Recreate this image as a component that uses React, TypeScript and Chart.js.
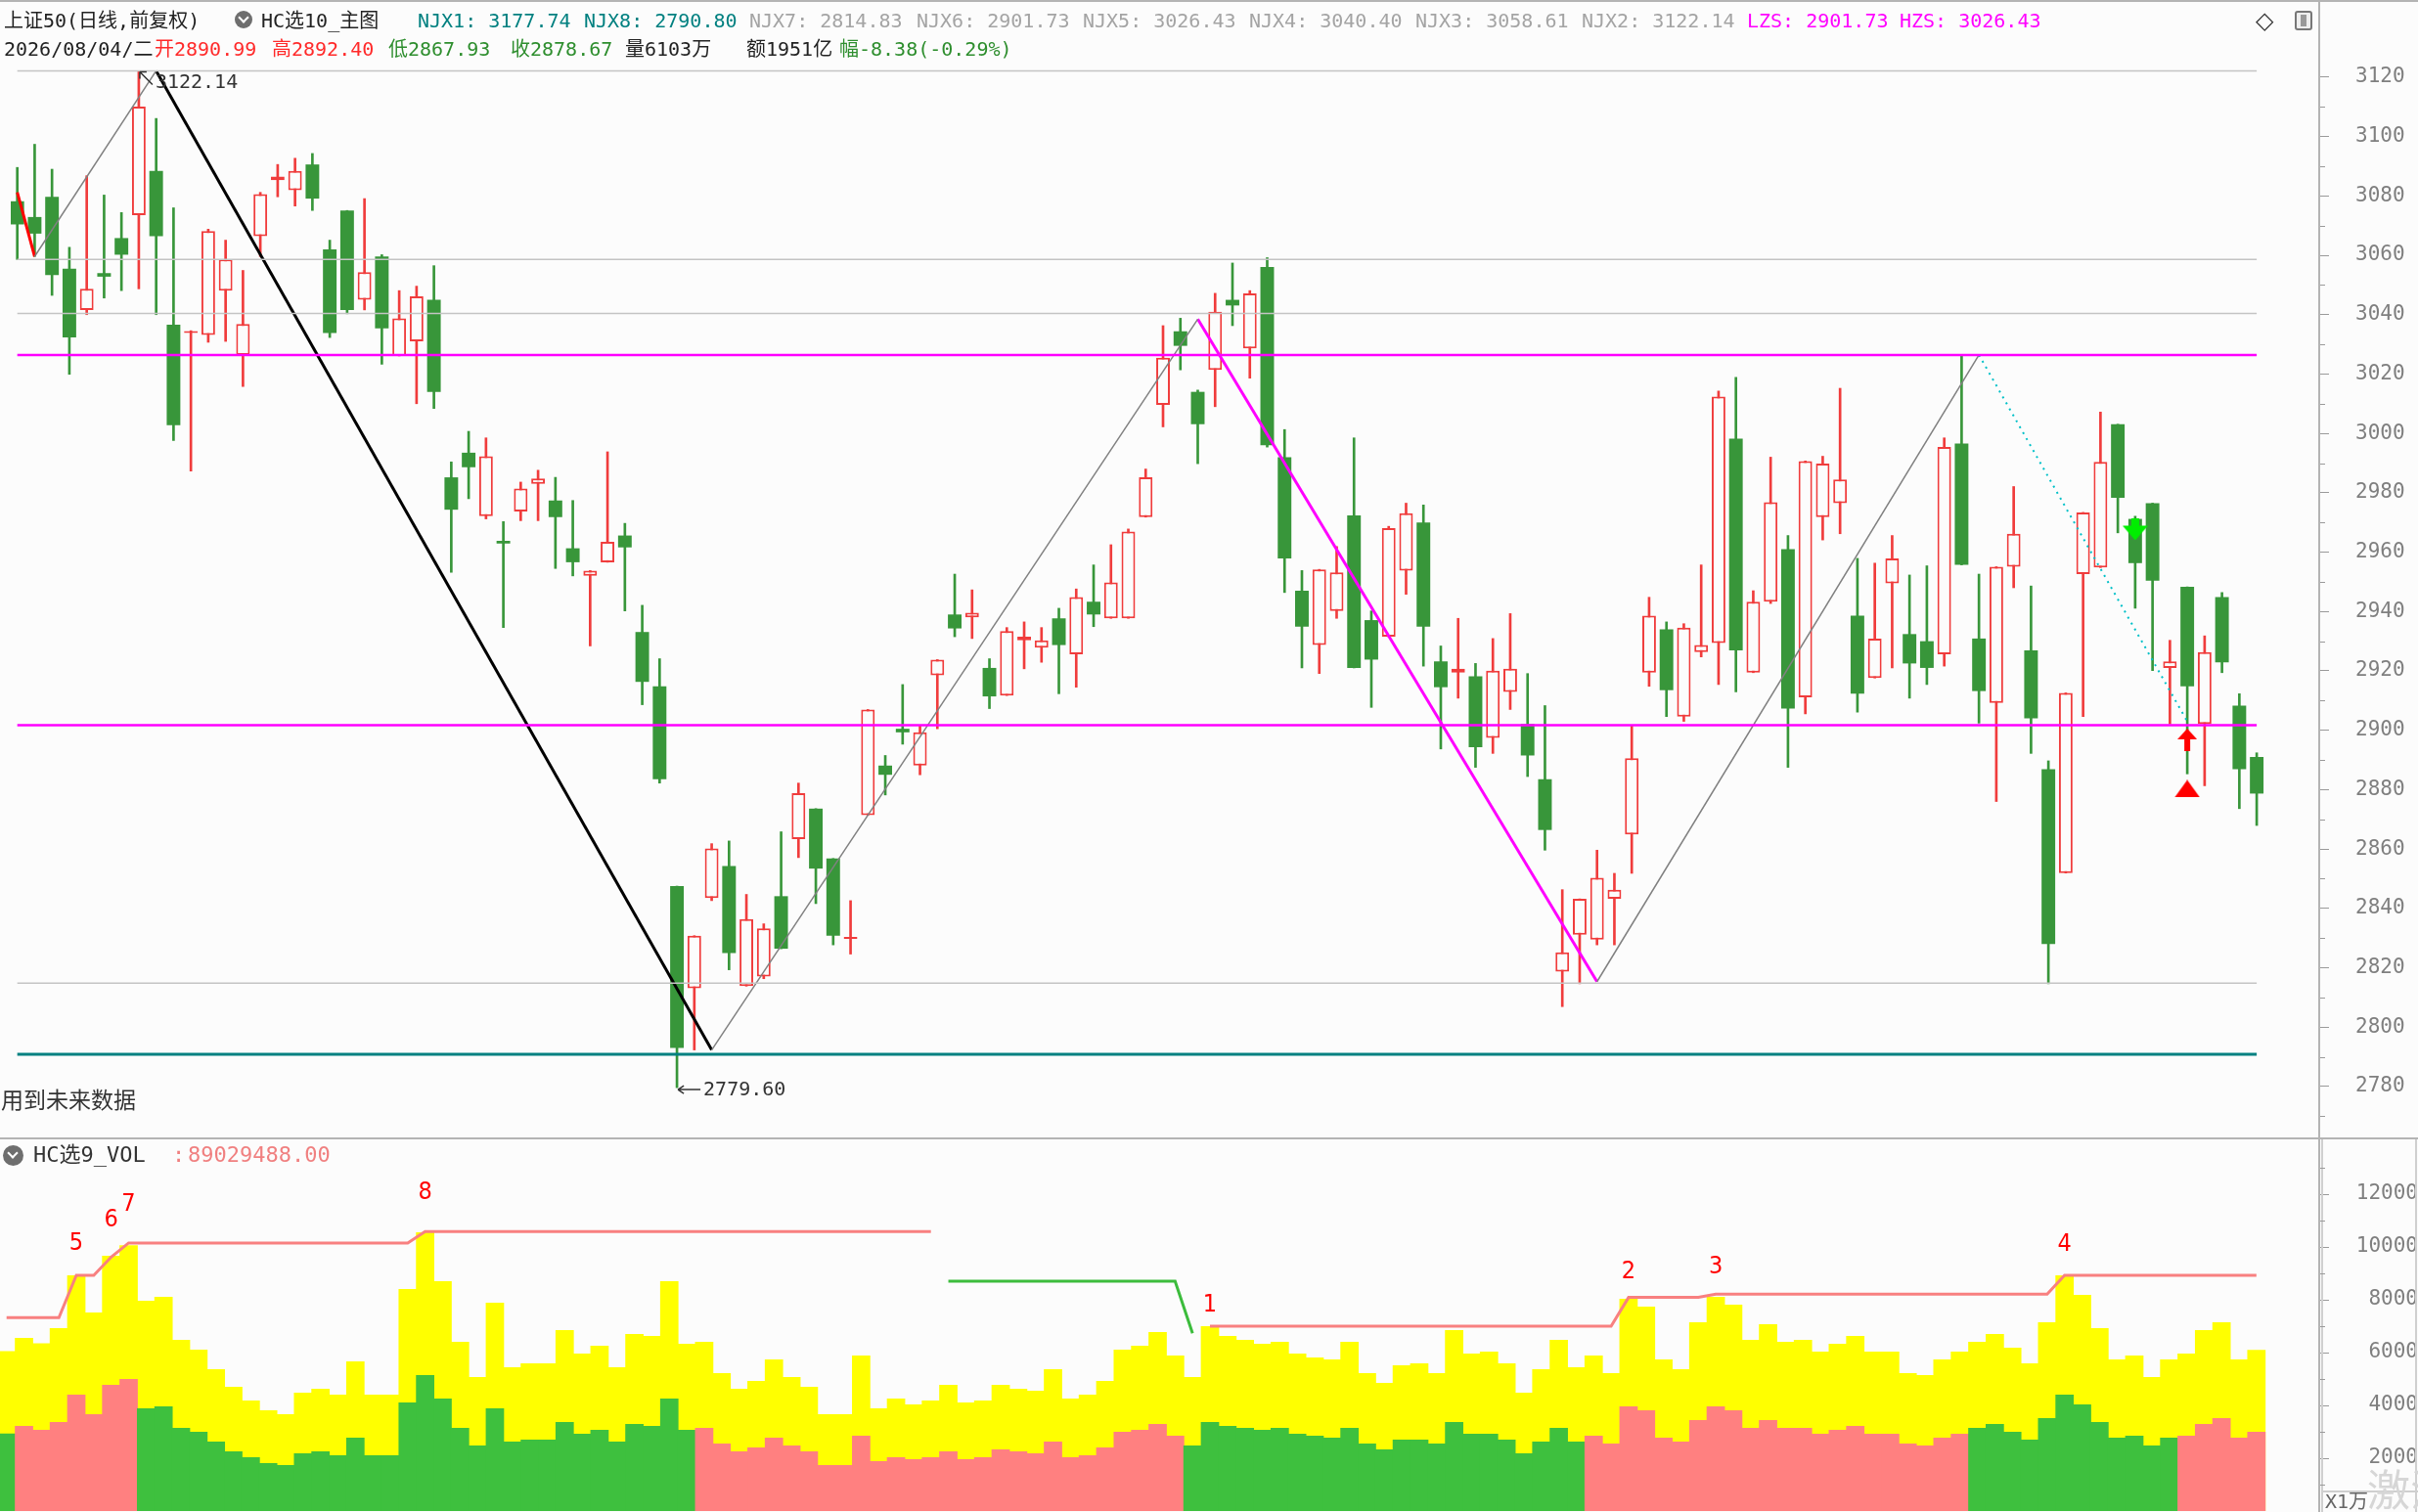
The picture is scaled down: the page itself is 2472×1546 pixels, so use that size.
import React, { useEffect, useRef } from 'react';
import { Chart, registerables } from 'chart.js';

Chart.register(...registerables);

// ---------------- data ----------------
const opens = [
  3078.2, 3072.9, 3079.7, 3055.5, 3041.6, 3054.0, 3065.8, 3073.5, 3088.4, 3036.6,
  3033.8, 3033.2, 3048.1, 3026.4, 3066.4, 3085.3, 3081.9, 3090.6, 3062.0, 3075.1,
  3045.0, 3059.6, 3026.1, 3031.0, 3045.0, 2985.2, 2993.5, 2972.1, 2963.8, 2973.7,
  2983.0, 2977.4, 2961.3, 2952.0, 2956.6, 2965.6, 2933.1, 2914.8, 2847.5, 2813.1,
  2843.5, 2854.3, 2813.8, 2817.0, 2844.1, 2863.3, 2873.6, 2856.8, 2829.7, 2871.4,
  2888.1, 2900.5, 2888.1, 2918.5, 2939.0, 2938.0, 2921.0, 2911.7, 2930.3, 2927.8,
  2937.7, 2925.6, 2943.3, 2937.7, 2937.7, 2971.8, 3009.6, 3034.4, 3014.0, 3021.4,
  3045.0, 3028.6, 3056.1, 2992.0, 2947.0, 2928.7, 2940.2, 2972.4, 2937.1, 2931.5,
  2953.8, 2970.0, 2923.2, 2919.4, 2918.2, 2897.4, 2912.9, 2902.1, 2883.5, 2818.7,
  2831.1, 2829.5, 2843.2, 2864.9, 2919.4, 2934.0, 2904.6, 2926.3, 2929.4, 2998.2,
  2919.4, 2943.3, 2961.0, 2911.1, 2971.8, 2976.5, 2938.6, 2917.6, 2949.5, 2932.4,
  2930.0, 2925.6, 2996.6, 2930.9, 2909.2, 2955.1, 2926.9, 2886.9, 2851.9, 2952.6,
  2954.8, 3003.1, 2971.2, 2976.5, 2921.0, 2948.3, 2902.1, 2944.9, 2908.3, 2890.99,
];
const highs = [
  3089.6, 3097.4, 3089.0, 3062.7, 3086.8, 3080.3, 3074.4, 3122.14, 3106.1, 3076.0,
  3034.6, 3068.8, 3065.1, 3054.9, 3081.2, 3090.6, 3092.7, 3094.3, 3065.1, 3075.1,
  3079.1, 3060.2, 3048.1, 3049.6, 3056.5, 2990.4, 3000.7, 2998.5, 2970.3, 2983.6,
  2987.6, 2985.2, 2977.4, 2953.8, 2993.8, 2969.7, 2942.1, 2924.1, 2847.5, 2830.8,
  2861.8, 2862.7, 2844.7, 2834.8, 2865.8, 2882.2, 2873.6, 2856.8, 2842.6, 2907.0,
  2891.5, 2915.4, 2901.5, 2923.8, 2952.6, 2947.3, 2924.1, 2934.6, 2936.5, 2934.6,
  2941.1, 2947.6, 2955.7, 2962.5, 2967.8, 2988.0, 3036.3, 3038.8, 3014.6, 3047.2,
  3057.4, 3048.1, 3059.2, 3001.3, 2953.8, 2954.2, 2961.9, 2998.5, 2940.2, 2968.7,
  2976.5, 2975.9, 2928.4, 2937.7, 2922.5, 2930.9, 2939.3, 2919.1, 2908.3, 2846.3,
  2843.2, 2859.6, 2851.8, 2901.5, 2944.8, 2936.5, 2935.9, 2955.7, 3014.3, 3018.9,
  2947.0, 2992.0, 2965.6, 2990.7, 2992.3, 3015.2, 2957.9, 2956.3, 2965.6, 2952.3,
  2955.4, 2998.5, 3026.43, 2952.6, 2955.1, 2982.1, 2948.6, 2889.7, 2912.6, 2973.4,
  3007.2, 3003.1, 2972.1, 2976.5, 2930.3, 2948.3, 2931.8, 2946.4, 2912.3, 2892.40,
];
const lows = [
  3058.6, 3059.6, 3046.5, 3019.9, 3040.0, 3045.6, 3048.1, 3048.7, 3040.0, 2997.6,
  2987.3, 3030.7, 3031.0, 3015.8, 3059.6, 3079.7, 3076.6, 3075.1, 3032.3, 3040.3,
  3041.6, 3023.3, 3026.1, 3010.0, 3008.4, 2953.2, 2978.0, 2971.2, 2934.6, 2970.6,
  2970.6, 2954.5, 2952.0, 2928.4, 2956.6, 2940.2, 2908.6, 2882.2, 2779.6, 2792.3,
  2842.6, 2819.3, 2813.8, 2816.3, 2826.4, 2857.1, 2841.6, 2827.7, 2824.6, 2871.4,
  2878.2, 2895.3, 2885.0, 2900.5, 2931.5, 2930.9, 2907.3, 2911.7, 2920.7, 2922.9,
  2912.3, 2914.5, 2934.9, 2937.7, 2937.7, 2971.8, 3002.2, 3021.4, 2989.8, 3009.0,
  3036.3, 3018.6, 2995.4, 2946.4, 2921.0, 2919.1, 2937.7, 2921.0, 2907.7, 2931.5,
  2945.8, 2921.6, 2893.7, 2910.8, 2887.5, 2892.2, 2907.0, 2884.4, 2859.6, 2806.9,
  2814.6, 2827.7, 2827.7, 2851.8, 2914.8, 2904.6, 2903.0, 2924.7, 2915.4, 2912.9,
  2919.4, 2942.7, 2887.5, 2905.5, 2964.1, 2966.2, 2906.1, 2917.6, 2921.0, 2910.8,
  2915.4, 2921.6, 2955.7, 2902.4, 2876.0, 2948.0, 2892.2, 2814.6, 2851.9, 2904.6,
  2954.8, 2966.5, 2941.1, 2920.1, 2902.1, 2885.3, 2881.3, 2919.4, 2873.6, 2867.93,
];
const closes = [
  3070.4, 3067.3, 3053.3, 3032.3, 3048.7, 3052.8, 3060.2, 3110.1, 3066.4, 3002.8,
  3034.4, 3068.2, 3058.6, 3036.9, 3080.6, 3086.5, 3088.4, 3079.1, 3033.8, 3041.6,
  3054.3, 3035.4, 3038.8, 3046.2, 3014.0, 2974.3, 2988.6, 2992.3, 2962.9, 2981.4,
  2984.8, 2971.8, 2956.6, 2953.8, 2963.5, 2961.6, 2916.3, 2883.5, 2793.0, 2830.8,
  2860.2, 2824.9, 2836.4, 2833.3, 2826.4, 2878.8, 2853.4, 2830.8, 2830.2, 2907.0,
  2885.0, 2899.3, 2899.3, 2923.8, 2934.3, 2939.6, 2911.4, 2933.4, 2931.5, 2930.3,
  2928.7, 2944.9, 2939.0, 2949.8, 2966.9, 2985.2, 3025.5, 3029.5, 3003.1, 3041.0,
  3043.1, 3047.2, 2996.0, 2957.9, 2934.9, 2954.2, 2953.2, 2921.0, 2923.8, 2968.1,
  2973.1, 2934.9, 2914.5, 2920.7, 2894.3, 2920.1, 2920.7, 2891.5, 2866.4, 2825.2,
  2843.2, 2850.3, 2846.3, 2890.6, 2938.6, 2913.5, 2934.6, 2928.7, 3012.4, 2926.9,
  2943.3, 2976.8, 2907.3, 2990.7, 2989.8, 2984.5, 2912.3, 2930.9, 2957.9, 2922.5,
  2921.0, 2995.4, 2955.7, 2913.2, 2955.1, 2966.2, 2904.0, 2828.0, 2912.6, 2973.4,
  2990.4, 2978.3, 2956.3, 2950.4, 2923.2, 2914.8, 2926.3, 2922.9, 2886.9, 2878.67,
];

// volume (unit: 万)
const volTotal = [
  6052, 6558, 6348, 6928, 8929, 7521, 9670, 10065, 7966, 8114,
  6484, 6113, 5372, 4705, 4187, 3816, 3668, 4483, 4631, 4409,
  5669, 4409, 4409, 8410, 10559, 8707, 6410, 5076, 7892, 5446,
  5595, 5595, 6854, 5965, 6261, 5446, 6706, 6632, 8707, 6336,
  6410, 5224, 4631, 4928, 5743, 5076, 4705, 3668, 3668, 5891,
  3890, 4261, 4038, 4187, 4779, 4113, 4187, 4779, 4631, 4557,
  5372, 4261, 4409, 4928, 6113, 6261, 6780, 5891, 5076, 7002,
  6632, 6484, 6336, 6410, 5965, 5817, 5743, 6410, 5224, 4854,
  5520, 5595, 5224, 6854, 5965, 6039, 5595, 4483, 5372, 6484,
  5446, 5891, 5224, 8040, 7743, 5743, 5372, 7151, 8114, 7818,
  6484, 7077, 6410, 6484, 6039, 6336, 6632, 6039, 6039, 5224,
  5150, 5743, 6039, 6410, 6706, 6187, 5595, 7151, 8929, 8188,
  6928, 5743, 5891, 5076, 5743, 5965, 6854, 7151, 5743, 6103,
];
const volPart = [
  2939, 3223, 3075, 3372, 4409, 3668, 4779, 5002, 3890, 3964,
  3149, 3001, 2631, 2260, 2038, 1815, 1741, 2186, 2260, 2112,
  2779, 2112, 2112, 4113, 5150, 4261, 3149, 2482, 3890, 2631,
  2705, 2705, 3372, 2927, 3075, 2631, 3297, 3223, 4261, 3075,
  3149, 2556, 2260, 2408, 2779, 2482, 2260, 1741, 1741, 2853,
  1890, 2038, 1964, 2038, 2260, 1964, 2038, 2334, 2260, 2186,
  2631, 2038, 2112, 2408, 3001, 3075, 3297, 2853, 2482, 3372,
  3223, 3149, 3075, 3149, 2927, 2853, 2779, 3149, 2556, 2334,
  2705, 2705, 2556, 3372, 2927, 2927, 2705, 2186, 2631, 3149,
  2631, 2853, 2556, 3964, 3816, 2779, 2631, 3446, 3964, 3816,
  3149, 3446, 3149, 3149, 2927, 3075, 3223, 2927, 2927, 2556,
  2482, 2779, 2927, 3149, 3297, 3001, 2705, 3520, 4409, 4038,
  3372, 2779, 2853, 2482, 2779, 2853, 3297, 3520, 2779, 3001,
];
const trendRuns = [
  [0, 0, 'down'], [1, 7, 'up'], [8, 39, 'down'], [40, 67, 'up'],
  [68, 90, 'down'], [91, 112, 'up'], [113, 124, 'down'], [125, 129, 'up'],
];

const priceTicks = [2780, 2800, 2820, 2840, 2860, 2880, 2900, 2920, 2940, 2960, 2980, 3000, 3020, 3040, 3060, 3080, 3100, 3120];
const volTicks = [2000, 4000, 6000, 8000, 10000, 12000];

const njxNames = ['NJX1', 'NJX8', 'NJX7', 'NJX6', 'NJX5', 'NJX4', 'NJX3', 'NJX2'];
const njxValues = [3177.74, 2790.80, 2814.83, 2901.73, 3026.43, 3040.40, 3058.61, 3122.14];
const LZS = 2901.73;
const HZS = 3026.43;
const grayLevels = [3122.14, 3058.61, 3040.40, 2814.83];
const magentaLevels = [HZS, LZS];
const tealLevel = 2790.80;

const zigRed = [[0, 3081.2], [1, 3059.6]];
const zigThin = [
  [[1, 3059.6], [8, 3122.14]],
  [[40, 2792.3], [68, 3038.5]],
  [[91, 2815.3], [113, 3026.43]],
];
const zigBlack = [[8, 3122.14], [40, 2792.3]];
const zigMagenta = [[68, 3038.5], [91, 2815.3]];
const zigCyan = [[113, 3026.43], [125, 2903.0]];

const sellMarks = [[122, 2967.6]];
const buyArrows = [[125, 2896.8]];
const buyTriangles = [[125, 2880.3]];
const peakMark = [7, 3122.14];
const troughMark = [38, 2779.6];

const volMaxRunsA = [[0, 3, 7324], [4, 5, 8929], [6, 6, 9620], [7, 23, 10152], [24, 53, 10584]];
const volMinRuns = [[54, 67, 8707], [68, 68, 6731]];
const volMaxRunsB = [[69, 92, 7002], [93, 97, 8089], [98, 117, 8213], [118, 129, 8929]];
const volMarks = [
  ['5', 4, 10148], ['6', 6, 11037], ['7', 7, 11593], ['8', 24, 12074],
  ['1', 69, 7778], ['2', 93, 9074], ['3', 98, 9259], ['4', 118, 10111],
];

const lastDate = '2026/08/04/二';
const lastVol = '6103万';
const lastAmount = '1951亿';
const lastChg = -8.38;
const lastPct = -0.29;
const volIndicator = 89029488.0;

// ---------------- style ----------------
const BG = '#fcfcfc';
const RED = '#f03c3c';
const GREEN = '#38963a';
const VGREEN = '#3ec03e';
const VRED = '#ff8080';
const YELLOW = '#ffff00';
const TEAL = '#008080';
const MAG = '#ff00ff';
const GRAYTXT = '#a4a4a4';
const MONO = '"DejaVu Sans Mono", "Noto Sans CJK SC", monospace';

const X_MIN = -0.376;
const X_MAX = 132.6;

function runsToPoints(runs) {
  const pts = [];
  runs.forEach(([a, b, v]) => {
    pts.push({ x: a, y: v });
    if (b !== a) pts.push({ x: b, y: v });
  });
  return pts;
}

function lineDs(pts, color, width, dash?, order = -1) {
  return {
    type: 'line',
    data: pts.map((p) => (Array.isArray(p) ? { x: p[0], y: p[1] } : p)),
    borderColor: color,
    backgroundColor: color,
    borderWidth: width,
    borderDash: dash || [],
    pointRadius: 0,
    pointHoverRadius: 0,
    fill: false,
    tension: 0,
    order,
  };
}

function makeCanvas(w, h, draw) {
  const c = document.createElement('canvas');
  c.width = w;
  c.height = h;
  const g = c.getContext('2d');
  draw(g);
  return c;
}

function xScale() {
  return {
    type: 'linear',
    display: false,
    min: X_MIN,
    max: X_MAX,
    offset: false,
    grid: { display: false },
    ticks: { stepSize: 50, includeBounds: false },
  };
}

const mainDeco = {
  id: 'mainDeco',
  afterDraw(chart) {
    const { ctx } = chart;
    const xs = chart.scales.x;
    const ys = chart.scales.y;
    ctx.save();
    ctx.fillStyle = '#b4b4b4';
    ctx.fillRect(0, 0, 2472, 2);
    ctx.fillRect(2370, 0, 2, chart.height);
    ctx.fillStyle = '#9a9a9a';
    for (let v = 2770; v <= 3110; v += 20) {
      const y = Math.round(ys.getPixelForValue(v));
      ctx.fillRect(2372, y, 5, 1);
    }
    ctx.strokeStyle = '#333';
    ctx.lineWidth = 1.5;
    const px = xs.getPixelForValue(peakMark[0]);
    const py = ys.getPixelForValue(peakMark[1]);
    ctx.beginPath();
    ctx.moveTo(px + 1, py + 1); ctx.lineTo(px + 14, py + 14);
    ctx.moveTo(px + 1, py + 1); ctx.lineTo(px + 8, py + 1);
    ctx.moveTo(px + 1, py + 1); ctx.lineTo(px + 1, py + 8);
    ctx.stroke();
    ctx.fillStyle = '#333';
    ctx.font = '20px ' + MONO;
    ctx.textAlign = 'left';
    ctx.textBaseline = 'middle';
    ctx.fillText(peakMark[1].toFixed(2), px + 17, py + 12);
    const tx = xs.getPixelForValue(troughMark[0]);
    const ty = ys.getPixelForValue(troughMark[1]);
    ctx.beginPath();
    ctx.moveTo(tx + 1, ty + 2); ctx.lineTo(tx + 24, ty + 2);
    ctx.moveTo(tx + 1, ty + 2); ctx.lineTo(tx + 7, ty - 2);
    ctx.moveTo(tx + 1, ty + 2); ctx.lineTo(tx + 7, ty + 6);
    ctx.stroke();
    ctx.fillText(troughMark[1].toFixed(2), tx + 27, ty + 3);
    ctx.restore();
  },
};

const volDeco = {
  id: 'volDeco',
  afterDraw(chart) {
    const { ctx } = chart;
    const xs = chart.scales.x;
    const ys = chart.scales.y;
    ctx.save();
    ctx.fillStyle = '#b4b4b4';
    ctx.fillRect(0, 0, 2472, 2);
    ctx.fillRect(2370, 0, 2, chart.height);
    ctx.fillStyle = '#cfcfcf';
    ctx.fillRect(2373, 2, 2, chart.height);
    ctx.fillRect(2469, 2, 2, chart.height);
    ctx.fillRect(2373, 361, 99, 2);
    ctx.fillStyle = '#9a9a9a';
    for (let v = 1000; v <= 13000; v += 2000) {
      const y = Math.round(ys.getPixelForValue(v));
      ctx.fillRect(2372, y, 5, 1);
    }
    ctx.fillStyle = '#666';
    ctx.font = '20px ' + MONO;
    ctx.textAlign = 'left';
    ctx.textBaseline = 'middle';
    ctx.fillText('X1万', 2377, 374);
    ctx.fillStyle = '#ff0000';
    ctx.font = '25px "Liberation Sans Narrow", "DejaVu Sans Condensed", sans-serif';
    ctx.textAlign = 'center';
    volMarks.forEach(([t, i, v]) => {
      ctx.fillText(t, xs.getPixelForValue(i), ys.getPixelForValue(v));
    });
    ctx.restore();
  },
};

function buildMain(canvas) {
  const idx = opens.map((_, i) => i);
  const up = idx.map((i) => closes[i] >= opens[i]);

  const greenDown = makeCanvas(26, 22, (g) => {
    g.fillStyle = '#00ee00';
    g.fillRect(9, 0, 8, 8);
    g.beginPath(); g.moveTo(0, 7); g.lineTo(26, 7); g.lineTo(13, 22); g.closePath(); g.fill();
  });
  const redUp = makeCanvas(20, 23, (g) => {
    g.fillStyle = '#ff0000';
    g.beginPath(); g.moveTo(10, 0); g.lineTo(20, 11); g.lineTo(0, 11); g.closePath(); g.fill();
    g.fillRect(7, 10, 6, 13);
  });
  const redTri = makeCanvas(26, 18, (g) => {
    g.fillStyle = '#ff0000';
    g.beginPath(); g.moveTo(13, 0); g.lineTo(26, 18); g.lineTo(0, 18); g.closePath(); g.fill();
  });

  const datasets = [];
  grayLevels.forEach((v) => datasets.push(lineDs([[0, v], [129, v]], '#c4c4c4', 1.5)));
  magentaLevels.forEach((v) => datasets.push(lineDs([[0, v], [129, v]], MAG, 2.5)));
  datasets.push(lineDs([[0, tealLevel], [129, tealLevel]], TEAL, 3));
  zigThin.forEach((s) => datasets.push(lineDs(s, '#808080', 1.5)));
  datasets.push(lineDs(zigRed, '#ff0000', 3));
  datasets.push(lineDs(zigBlack, '#000000', 3));
  datasets.push(lineDs(zigMagenta, MAG, 3));
  datasets.push(lineDs(zigCyan, '#00c0c8', 2, [2, 5]));

  const mk = (arr, style) => ({
    type: 'scatter',
    data: arr.map(([x, y]) => ({ x, y })),
    pointStyle: style,
    pointRadius: 10,
    pointHoverRadius: 10,
    order: -3,
  });
  datasets.push(mk(sellMarks, greenDown));
  datasets.push(mk(buyArrows, redUp));
  datasets.push(mk(buyTriangles, redTri));

  datasets.push({
    type: 'bar',
    data: idx.map((i) => ({ x: i, y: [opens[i], closes[i]] })),
    grouped: false,
    categoryPercentage: 1,
    barPercentage: 0.785,
    minBarLength: 2,
    backgroundColor: up.map((u) => (u ? BG : GREEN)),
    borderColor: up.map((u) => (u ? RED : GREEN)),
    borderWidth: up.map((u) => (u ? 2 : 0)),
    borderSkipped: false,
    order: 0,
  });
  datasets.push({
    type: 'bar',
    data: idx.map((i) => ({ x: i, y: [lows[i], highs[i]] })),
    grouped: false,
    categoryPercentage: 1,
    barPercentage: 1,
    maxBarThickness: 2,
    backgroundColor: up.map((u) => (u ? RED : GREEN)),
    borderWidth: 0,
    order: 1,
  });

  return new Chart(canvas, {
    type: 'bar',
    data: { datasets },
    options: {
      responsive: false,
      animation: false,
      devicePixelRatio: 1,
      events: [],
      layout: { padding: { top: 70, bottom: 3, left: 0, right: 0 } },
      plugins: { legend: { display: false }, tooltip: { enabled: false }, title: { display: false } },
      scales: {
        x: xScale(),
        y: {
          type: 'linear',
          position: 'right',
          min: 2766.46,
          max: 3122.94,
          afterBuildTicks: (s) => { s.ticks = priceTicks.map((v) => ({ value: v })); },
          afterFit: (s) => { s.width = 101; s.paddingTop = 0; s.paddingBottom = 0; },
          border: { display: false },
          grid: { drawOnChartArea: false, drawTicks: true, tickLength: 10, tickColor: '#9a9a9a', tickWidth: 1 },
          ticks: {
            padding: 27,
            color: '#7f7f7f',
            font: { family: MONO, size: 21 },
            autoSkip: false,
            callback: (v) => String(v),
          },
        },
      },
    },
    plugins: [mainDeco],
  });
}

function buildVol(canvas) {
  const idx = volTotal.map((_, i) => i);
  const trendOf = idx.map((i) => {
    const r = trendRuns.find(([a, b]) => i >= a && i <= b);
    return r ? r[2] : 'down';
  });
  const datasets = [
    lineDs(runsToPoints(volMaxRunsA), '#f88080', 3, undefined, -1),
    lineDs(runsToPoints(volMinRuns), '#3cbc3c', 3, undefined, -1),
    lineDs(runsToPoints(volMaxRunsB), '#f88080', 3, undefined, -1),
    {
      type: 'bar',
      data: idx.map((i) => ({ x: i, y: volPart[i] })),
      grouped: false,
      categoryPercentage: 1,
      barPercentage: 1.05,
      backgroundColor: trendOf.map((t) => (t === 'up' ? VRED : VGREEN)),
      borderWidth: 0,
      order: 0,
    },
    {
      type: 'bar',
      data: idx.map((i) => ({ x: i, y: volTotal[i] })),
      grouped: false,
      categoryPercentage: 1,
      barPercentage: 1.05,
      backgroundColor: YELLOW,
      borderWidth: 0,
      order: 1,
    },
  ];
  return new Chart(canvas, {
    type: 'bar',
    data: { datasets },
    options: {
      responsive: false,
      animation: false,
      devicePixelRatio: 1,
      events: [],
      layout: { padding: { top: 7, bottom: 1, left: 0, right: 0 } },
      plugins: { legend: { display: false }, tooltip: { enabled: false }, title: { display: false } },
      scales: {
        x: xScale(),
        y: {
          type: 'linear',
          position: 'right',
          min: 0,
          max: 13889,
          afterBuildTicks: (s) => { s.ticks = volTicks.map((v) => ({ value: v })); },
          afterFit: (s) => { s.width = 101; s.paddingTop = 0; s.paddingBottom = 0; },
          border: { display: false },
          grid: { drawOnChartArea: false, drawTicks: true, tickLength: 10, tickWidth: 1, tickColor: '#9a9a9a' },
          ticks: {
            padding: 15,
            crossAlign: 'far',
            color: '#7f7f7f',
            font: { family: MONO, size: 21 },
            autoSkip: false,
            callback: (v) => String(v),
          },
        },
      },
    },
    plugins: [volDeco],
  });
}

// ---------------- header helpers ----------------
const njxX = [427, 597, 766, 937, 1107, 1277, 1447, 1617];
const row1 = [
  { t: '上证50(日线,前复权)', x: 4, c: '#222' },
  { t: 'HC选10_主图', x: 267, c: '#222' },
  ...njxNames.map((n, k) => ({ t: `${n}: ${njxValues[k].toFixed(2)}`, x: njxX[k], c: k < 2 ? TEAL : GRAYTXT })),
  { t: `LZS: ${LZS.toFixed(2)}`, x: 1786, c: MAG },
  { t: `HZS: ${HZS.toFixed(2)}`, x: 1942, c: MAG },
];
const last = opens.length - 1;
const row2 = [
  { t: lastDate, x: 4, c: '#222' },
  { t: `开${opens[last].toFixed(2)}`, x: 158, c: '#ff2a2a' },
  { t: `高${highs[last].toFixed(2)}`, x: 278, c: '#ff2a2a' },
  { t: `低${lows[last].toFixed(2)}`, x: 397, c: '#2e8e2e' },
  { t: `收${closes[last].toFixed(2)}`, x: 522, c: '#2e8e2e' },
  { t: `量${lastVol}`, x: 639, c: '#222' },
  { t: `额${lastAmount}`, x: 763, c: '#222' },
  { t: `幅${lastChg.toFixed(2)}(${lastPct.toFixed(2)}%)`, x: 858, c: '#2e8e2e' },
];

function Txt({ t, x, cy, c, size = 20, family = MONO }) {
  return (
    <div
      style={{
        position: 'absolute',
        left: x,
        top: cy - 14,
        height: 28,
        lineHeight: '28px',
        fontSize: size,
        fontFamily: family,
        color: c,
        whiteSpace: 'nowrap',
      }}
    >
      {t}
    </div>
  );
}

function CircleIcon({ cx, cy, d }) {
  return (
    <div
      style={{
        position: 'absolute',
        left: cx - d / 2,
        top: cy - d / 2,
        width: d,
        height: d,
        borderRadius: '50%',
        background: '#6e6e6e',
      }}
    >
      <div
        style={{
          position: 'absolute',
          left: d / 2 - 4,
          top: d / 2 - 6,
          width: 6,
          height: 6,
          borderRight: '2px solid #fff',
          borderBottom: '2px solid #fff',
          transform: 'rotate(45deg)',
        }}
      />
    </div>
  );
}

export default function App() {
  const mainRef = useRef(null);
  const volRef = useRef(null);

  useEffect(() => {
    document.body.style.margin = '0';
    document.body.style.background = BG;
    document.body.style.overflow = 'hidden';
    const m = buildMain(mainRef.current);
    const v = buildVol(volRef.current);
    return () => {
      m.destroy();
      v.destroy();
    };
  }, []);

  return (
    <div style={{ position: 'absolute', left: 0, top: 0, width: 2472, height: 1546, background: BG, overflow: 'hidden' }}>
      <canvas ref={mainRef} width={2472} height={1163} style={{ position: 'absolute', left: 0, top: 0, width: 2472, height: 1163 }} />
      <canvas ref={volRef} width={2472} height={383} style={{ position: 'absolute', left: 0, top: 1163, width: 2472, height: 383 }} />
      {row1.map((r, k) => <Txt key={'a' + k} t={r.t} x={r.x} cy={21} c={r.c} />)}
      {row2.map((r, k) => <Txt key={'b' + k} t={r.t} x={r.x} cy={50} c={r.c} />)}
      <CircleIcon cx={249} cy={20} d={18} />
      <div style={{ position: 'absolute', left: 2306, top: 8, fontSize: 24, lineHeight: '26px', fontFamily: '"DejaVu Sans"', color: '#333' }}>◇</div>
      <div style={{ position: 'absolute', left: 2346, top: 11, width: 14, height: 16, border: '2px solid #777', borderRadius: 3, background: '#eee' }}>
        <div style={{ position: 'absolute', left: 4, top: 2, width: 6, height: 12, background: '#999' }} />
      </div>
      <Txt t="用到未来数据" x={1} cy={1123} c="#333" size={23} family='"Noto Sans CJK SC", sans-serif' />
      <CircleIcon cx={13} cy={1181} d={21} />
      <Txt t="HC选9_VOL" x={34} cy={1181} c="#333" size={22} />
      <Txt t=":" x={176} cy={1181} c="#f08080" size={22} />
      <Txt t={volIndicator.toFixed(2)} x={192} cy={1181} c="#f08080" size={22} />
      <div style={{ position: 'absolute', left: 2420, top: 1496, fontSize: 44, lineHeight: '50px', fontFamily: '"Noto Sans CJK SC"', color: '#d6d6d6', whiteSpace: 'nowrap' }}>激活</div>
    </div>
  );
}
